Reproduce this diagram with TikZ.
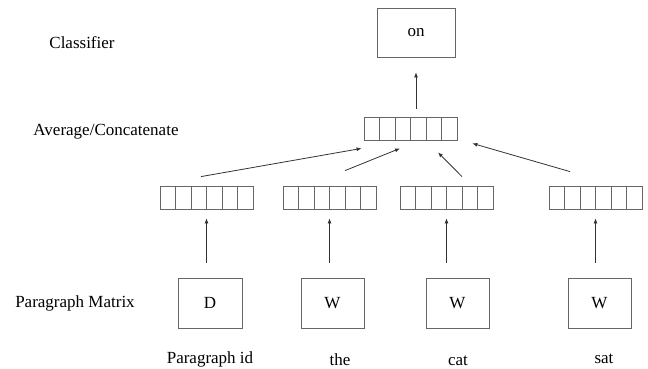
\documentclass[tikz,border=0pt]{standalone}
\usepackage{fontspec}
\setmainfont{Liberation Serif}
\usetikzlibrary{arrows.meta}
\tikzset{
  box/.style={draw=black!60, line width=0.8pt, minimum width=63pt, minimum height=50pt, inner sep=0pt},
  vec/.style={draw=black!60, line width=0.8pt, minimum width=93pt, minimum height=23pt, inner sep=0pt,
    path picture={\foreach \i in {1,...,5}
      \draw[black!60, line width=0.8pt] ([xshift=\i*15.5pt]path picture bounding box.south west) -- ([xshift=\i*15.5pt]path picture bounding box.north west);}},
  arr/.style={-{Latex[length=5pt,width=4pt]}, line width=0.8pt, black!80},
  word/.style={anchor=base, inner sep=0pt},
}
\begin{document}
\begin{tikzpicture}[x=1pt,y=1pt,font=\fontsize{17}{20}\selectfont]
\useasboundingbox (0,0) rectangle (648,368);
\node (on) [box, minimum width=78pt, minimum height=49pt] at (416,335.5) {on};
\node (avg) [vec] at (410.5,239.5) {};
\node (vd) [vec] at (206.5,170.5) {};
\node (vthe) [vec] at (329.5,170.5) {};
\node (vcat) [vec] at (446.5,170.5) {};
\node (vsat) [vec] at (595.5,170.5) {};
\node (d) [box, minimum width=64pt] at (210,65) {D};
\node (w1) [box] at (332.5,65) {W};
\node (w2) [box] at (457.5,65) {W};
\node (w3) [box] at (599.5,65) {W};

\node (classifier) at (82,325) {Classifier};
\node (average) at (106,236) {Average/Concatenate};
\node (matrix) at (75,65) {Paragraph Matrix};
\node (pid) [word] at (210,5) {Paragraph id};
\node (the) [word] at (340,3) {the};
\node (cat) [word] at (458,3) {cat};
\node (sat) [word] at (604,5) {sat};

\draw[arr, shorten <=8pt, shorten >=15pt] (on |- avg.north) -- (on.south);
\foreach \v/\b in {vd/d, vthe/w1, vcat/w2, vsat/w3}
  \draw[arr, shorten <=15pt, shorten >=9pt] (\v |- \b.north) -- (\v.south);
\draw[arr] ([xshift=-5.5pt,yshift=9pt]vd.north) -- ([xshift=-2pt,yshift=-8pt]avg.south west);
\draw[arr] ([xshift=15.5pt,yshift=15pt]vthe.north) -- ([xshift=-10.5pt,yshift=-8pt]avg.south);
\draw[arr] ([xshift=15.5pt,yshift=9pt]vcat.north) -- ([xshift=27.5pt,yshift=-12pt]avg.south);
\draw[arr] ([xshift=-25.5pt,yshift=14pt]vsat.north) -- ([xshift=15pt,yshift=-3pt]avg.south east);
\end{tikzpicture}
\end{document}
